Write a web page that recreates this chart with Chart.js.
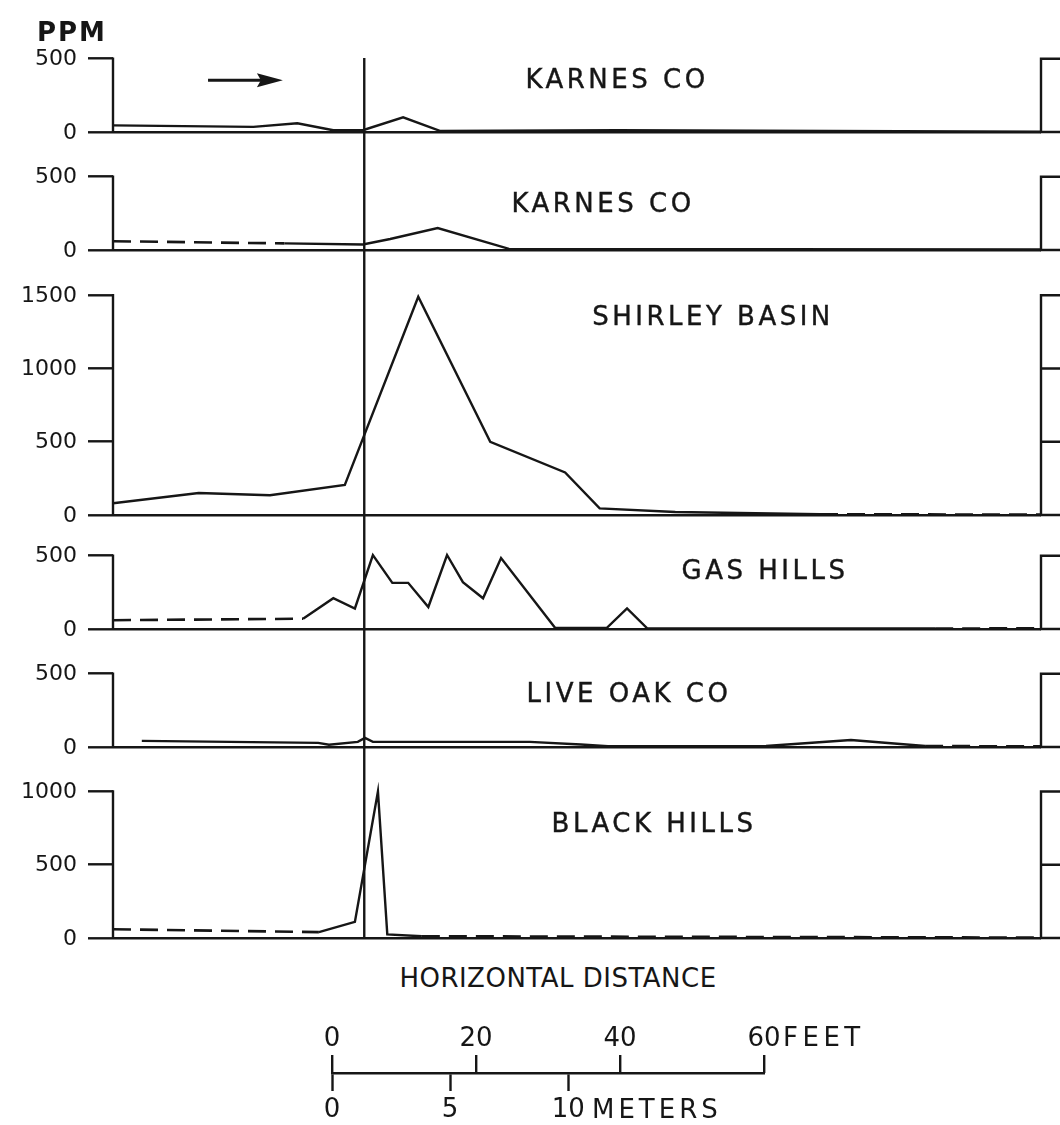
<!DOCTYPE html>
<html lang="en">
<head>
<meta charset="UTF-8">
<title>Uranium (ppm) across the front – six deposits</title>
<script src="https://cdn.jsdelivr.net/npm/chart.js"></script>
<style>
  body{margin:0;background:#fff;}
  #fig{position:relative;width:1060px;height:1125px;overflow:hidden;background:#fff;color:#161616;font-family:'DejaVu Sans',sans-serif;}
  #fig canvas{position:absolute;left:0;}
  .t{position:absolute;line-height:1;white-space:nowrap;transform:translate(-50%,-50%);}
  .l{position:absolute;line-height:1;white-space:nowrap;transform:translate(0,-50%);}
  .ttl{font-size:26px;letter-spacing:3.5px;-webkit-text-stroke:0.4px #161616;}
</style>
</head>
<body>
<div id="fig">
  <canvas id="profiles" width="1060" height="960" style="top:0"></canvas>
  <canvas id="scaleBar" width="1060" height="125" style="top:1000px"></canvas>

  <div class="l" style="left:37px;top:32px;font-size:26px;font-weight:bold;letter-spacing:2px">PPM</div>

  <div class="t ttl" style="left:617px;top:79px">KARNES CO</div>
  <div class="t ttl" style="left:603px;top:203px">KARNES CO</div>
  <div class="t ttl" style="left:713px;top:316px">SHIRLEY BASIN</div>
  <div class="t ttl" style="left:765px;top:570px">GAS HILLS</div>
  <div class="t ttl" style="left:629px;top:693px">LIVE OAK CO</div>
  <div class="t ttl" style="left:654px;top:823px">BLACK HILLS</div>

  <div class="t" style="left:558px;top:978px;font-size:26px;letter-spacing:0.5px">HORIZONTAL DISTANCE</div>
  <div class="l" style="left:783px;top:1037px;font-size:26px;letter-spacing:4.5px">FEET</div>
  <div class="l" style="left:592px;top:1109px;font-size:26px;letter-spacing:4px">METERS</div>
</div>

<script>
// distance in feet from the left frame, concentration in ppm
const xMaxFt = 128.9;
const frontFt = 34.9;

const karnes1Solid = [[0,45],[19.5,35],[25.6,60],[30.6,12],[34.7,12],[40.3,100],[45.4,8],[70,12],[128.9,2]];

const karnes2Dash  = [[0,60],[23.8,45]];
const karnes2Solid = [[23.8,45],[34.7,38],[38.5,75],[45.1,150],[55.0,8],[128.9,3]];

const shirleySolid = [[0,80],[11.9,150],[21.8,135],[32.2,205],[42.4,1490],[52.4,500],[62.8,290],[67.6,45],[78.1,20],[98.2,5]];
const shirleyDash  = [[98.2,5],[128.9,3]];

const gasHillsDashL = [[0,60],[26.4,70]];
const gasHillsSolid = [[26.4,70],[30.6,210],[33.6,140],[36.1,505],[38.8,315],[41.0,315],[43.8,150],[46.4,505],[48.6,320],[51.4,210],[53.9,485],[61.4,8],[68.6,8],[71.4,140],[74.2,5],[114.2,3]];
const gasHillsDashR = [[114.2,3],[128.9,5]];

const liveOakSolid = [[4.0,42],[28.5,28],[30.0,15],[34.0,35],[35.0,62],[36.1,35],[57.9,35],[65.0,17],[68.75,5],[90.7,7],[102.5,48],[112.8,7]];
const liveOakDash  = [[112.8,7],[128.9,4]];

const blackHillsDashL = [[0,60],[28.6,40]];
const blackHillsSolid = [[28.6,40],[33.6,110],[36.8,1000],[38.1,25],[42.9,12]];
const blackHillsDashR = [[42.9,12],[128.9,3]];

const ticks500  = [0,500];
const ticks1000 = [0,500,1000];
const ticks1500 = [0,500,1000,1500];

const feetTicks  = [0,20,40,60];
const meterTicks = [0,5,10];
const feetPerMeter = 3.2808;

// arrow (direction of front movement), drawn on the top panel
const arrowFt = [13.2, 23.6];
const arrowPpm = 354;

// layout
const ink = '#161616';
const FONT = "'DejaVu Sans', sans-serif";
const area = {top:58, bottom:940, left:113, right:1041};
const pxPerPpm = 0.1465;
const tickLen = 25, labelGap = 11;

const panels = [
  {id:'yK1', zero:132, ticks:ticks500,  solid:[karnes1Solid],    dashed:[]},
  {id:'yK2', zero:250, ticks:ticks500,  solid:[karnes2Solid],    dashed:[karnes2Dash]},
  {id:'ySB', zero:515, ticks:ticks1500, solid:[shirleySolid],    dashed:[shirleyDash]},
  {id:'yGH', zero:629, ticks:ticks500,  solid:[gasHillsSolid],   dashed:[gasHillsDashL, gasHillsDashR]},
  {id:'yLO', zero:747, ticks:ticks500,  solid:[liveOakSolid],    dashed:[liveOakDash]},
  {id:'yBH', zero:938, ticks:ticks1000, solid:[blackHillsSolid], dashed:[blackHillsDashL, blackHillsDashR]}
];

const scales = { x:{type:'linear', min:0, max:xMaxFt, display:false} };
const datasets = [];

panels.forEach(p => {
  scales[p.id] = {
    type:'linear', position:{x:0},
    min: -(area.bottom - p.zero)/pxPerPpm,
    max: (p.zero - area.top)/pxPerPpm,
    afterBuildTicks: s => { s.ticks = p.ticks.map(v => ({value:v})); },
    border:{display:false},
    grid:{drawOnChartArea:true, drawTicks:true, tickLength:tickLen, tickWidth:2.4, tickColor:ink, lineWidth:2.6,
          color: c => (c.tick && c.tick.value === 0) ? ink : 'rgba(0,0,0,0)'},
    ticks:{display:false}
  };
  p.solid.forEach(run => datasets.push({data:run, yAxisID:p.id, borderColor:ink, borderWidth:2.4, pointRadius:0, tension:0, fill:false}));
  p.dashed.forEach(run => datasets.push({data:run, yAxisID:p.id, borderColor:ink, borderWidth:2.6, borderDash:[18,9], pointRadius:0, tension:0, fill:false}));
});

// frames on both sides, tick labels, the front line and the arrow
const framePlugin = {
  id:'frames',
  afterDatasetsDraw(chart){
    const {ctx, chartArea:a, scales:s} = chart;
    ctx.save();
    ctx.strokeStyle = ink; ctx.fillStyle = ink; ctx.lineWidth = 2.4;
    ctx.font = "22px " + FONT; ctx.textAlign = 'right'; ctx.textBaseline = 'middle';
    panels.forEach(p => {
      const sc = s[p.id];
      const y0 = sc.getPixelForValue(0), yT = sc.getPixelForValue(p.ticks[p.ticks.length-1]);
      ctx.beginPath();
      ctx.moveTo(a.left, y0); ctx.lineTo(a.left, yT-1.2);
      ctx.moveTo(a.right, y0+1); ctx.lineTo(a.right, yT-1.2);
      sc.ticks.forEach(t => { const y = sc.getPixelForValue(t.value); ctx.moveTo(a.right-1, y); ctx.lineTo(a.right+30, y); });
      ctx.stroke();
      sc.ticks.forEach(t => ctx.fillText(String(t.value), a.left - tickLen - labelGap, sc.getPixelForValue(t.value) + 1));
    });
    const xf = s.x.getPixelForValue(frontFt);
    ctx.beginPath(); ctx.moveTo(xf, a.top); ctx.lineTo(xf, s.yBH.getPixelForValue(0)+1); ctx.stroke();

    const ay = s.yK1.getPixelForValue(arrowPpm);
    const ax1 = s.x.getPixelForValue(arrowFt[0]), ax2 = s.x.getPixelForValue(arrowFt[1]);
    ctx.lineWidth = 3;
    ctx.beginPath(); ctx.moveTo(ax1, ay); ctx.lineTo(ax2-12, ay); ctx.stroke();
    ctx.beginPath(); ctx.moveTo(ax2, ay); ctx.lineTo(ax2-26, ay-7); ctx.lineTo(ax2-22, ay); ctx.lineTo(ax2-26, ay+7); ctx.closePath(); ctx.fill();
    ctx.restore();
  }
};

new Chart(document.getElementById('profiles'), {
  type:'line',
  data:{datasets},
  options:{
    responsive:false, animation:false, events:[],
    layout:{padding:{left:area.left, right:1060-area.right, top:area.top, bottom:960-area.bottom}},
    plugins:{legend:{display:false}, tooltip:{enabled:false}},
    scales
  },
  plugins:[framePlugin]
});

// scale bar: feet above, meters below
new Chart(document.getElementById('scaleBar'), {
  type:'line',
  data:{datasets:[]},
  options:{
    responsive:false, animation:false, events:[],
    layout:{padding:{left:332, right:296, top:15, bottom:7}},
    plugins:{legend:{display:false}, tooltip:{enabled:false}},
    scales:{
      ft:{type:'linear', axis:'x', position:'top', min:0, max:60, bounds:'data',
          afterBuildTicks:s => { s.ticks = feetTicks.map(v => ({value:v})); },
          afterFit:s => { s.height = 40; },
          border:{display:false},
          grid:{drawOnChartArea:true, drawTicks:false, color:ink, lineWidth:2.4},
          ticks:{color:ink, padding:0, maxRotation:0, autoSkip:false, font:{family:FONT, size:26}, callback:v => String(v)}},
      m:{type:'linear', axis:'x', position:'bottom', min:0, max:60/feetPerMeter, bounds:'data',
          afterBuildTicks:s => { s.ticks = meterTicks.map(v => ({value:v})); },
          afterFit:s => { s.height = 45; },
          border:{display:true, color:ink, width:2.4},
          grid:{drawOnChartArea:false, drawTicks:true, tickLength:18, tickWidth:2.4, tickColor:ink},
          ticks:{color:ink, padding:4, maxRotation:0, autoSkip:false, font:{family:FONT, size:26}, callback:v => String(v)}},
      y:{type:'linear', display:false, min:0, max:1}
    }
  }
});
</script>
</body>
</html>
